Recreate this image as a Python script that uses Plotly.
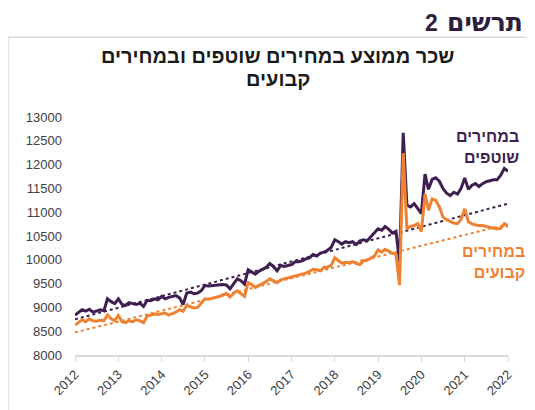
import plotly.graph_objects as go
import pandas as pd

# monthly average wage, Jan 2012 .. Jan 2022
months = pd.date_range("2012-01-01", "2022-01-01", freq="MS")

current_prices = [
    8840, 8900, 8950, 8920, 8960, 8900, 8930, 8950, 8930, 9180, 9120, 9080,
    9180, 9060, 9040, 9100, 9080, 9060, 9090, 9020, 9150, 9140, 9180, 9160,
    9230, 9180, 9210, 9230, 9250, 9200, 9060, 9300, 9320, 9290, 9300, 9350,
    9460, 9450, 9460, 9470, 9480, 9480, 9470, 9390, 9500, 9600, 9560, 9490,
    9790, 9740, 9700, 9760, 9800, 9840, 9920, 9860, 9770, 9880, 9860, 9880,
    9900, 9960, 9960, 9980, 10020, 10040, 10110, 10080, 10140, 10160, 10200, 10260,
    10420, 10380, 10330, 10380, 10360, 10380, 10320, 10400, 10420, 10400, 10490, 10560,
    10650, 10620, 10700, 10640, 10560, 10600, 9950, 12670, 11150, 11110, 11180, 11080,
    10970, 11800, 11480, 11690, 11725, 11650, 11500, 11400, 11350, 11420, 11380, 11500,
    11720, 11480, 11560, 11600, 11540, 11600, 11640, 11660, 11680, 11680, 11780, 11920,
    11860,
]

fixed_prices = [
    8630, 8680, 8740, 8700, 8760, 8720, 8710, 8730, 8720, 8840, 8760, 8720,
    8830, 8700, 8680, 8720, 8700, 8740, 8720, 8680, 8820, 8840, 8860, 8850,
    8860, 8880, 8840, 8870, 8900, 8950, 8920, 9040, 9010, 8990, 9000, 9080,
    9180, 9170, 9190, 9200, 9230, 9260, 9290, 9220, 9300, 9350, 9290, 9230,
    9520, 9480, 9420, 9460, 9500, 9540, 9600, 9560, 9520, 9580, 9600, 9620,
    9640, 9670, 9680, 9700, 9720, 9760, 9800, 9790, 9770, 9840, 9850, 9880,
    10040, 9980, 9930, 9950, 9940, 9960, 9920, 9900, 9980, 9990, 10040, 10080,
    10210, 10160, 10220, 10180, 10140, 10120, 9470, 12240, 10650, 10700, 10720, 10760,
    10590, 11380, 11040, 11280, 11250, 11110, 10900, 10840, 10800, 10770, 10760, 10850,
    11070, 10800, 10760, 10730, 10720, 10720, 10700, 10680, 10660, 10650, 10660, 10760,
    10690,
]

# linear trend end points (start / end of period)
trend_x = ["2012-01-01", "2022-01-01"]
trend_current = [8750, 11180]
trend_fixed = [8475, 10750]

PURPLE = "#3e1f4f"
ORANGE = "#ef8232"
FONT = "Liberation Sans, Arial, DejaVu Sans, sans-serif"

fig = go.Figure()

fig.add_trace(go.Scatter(x=trend_x, y=trend_current, mode="lines",
                         line=dict(color=PURPLE, width=2, dash="dot"), showlegend=False))
fig.add_trace(go.Scatter(x=trend_x, y=trend_fixed, mode="lines",
                         line=dict(color=ORANGE, width=2, dash="dot"), showlegend=False))
fig.add_trace(go.Scatter(x=months, y=current_prices, mode="lines",
                         line=dict(color=PURPLE, width=3), showlegend=False))
fig.add_trace(go.Scatter(x=months, y=fixed_prices, mode="lines",
                         line=dict(color=ORANGE, width=3), showlegend=False))

# chart frame
fig.add_shape(type="rect", xref="paper", yref="paper",
              x0=-0.1547, x1=1.08, y0=-0.3, y1=1.3347,
              line=dict(color="#d9d9d9", width=1.5), layer="below")

annots = [
    # figure heading, runs off the right edge as in the source page
    dict(text="<b>2</b>", x=0.843, y=1.395, xanchor="right",
         font=dict(size=23, color="#2f1d3d")),
    dict(text="<b>תרשים</b>", x=0.8545, y=1.395, xanchor="left",
         font=dict(size=25, color="#2f1d3d", family="DejaVu Sans, sans-serif")),
    dict(text="<b>שכר ממוצע במחירים שוטפים ובמחירים</b>", x=0.468, y=1.255,
         xanchor="center", font=dict(size=20, color="#1a1a1a")),
    dict(text="<b>קבועים</b>", x=0.468, y=1.161, xanchor="center",
         font=dict(size=20, color="#1a1a1a")),
    dict(text="<b>במחירים<br>שוטפים</b>", x=1.03, y=0.876, xanchor="right",
         align="right", font=dict(size=16, color=PURPLE)),
    dict(text="<b>במחירים<br>קבועים</b>", x=1.045, y=0.39, xanchor="right",
         align="right", font=dict(size=16, color=ORANGE)),
]
for a in annots:
    fig.add_annotation(xref="paper", yref="paper", showarrow=False,
                       yanchor="middle", **a)

# page body has an 8px margin, so the figure is 8px smaller than the window
fig.update_layout(
    width=527,
    height=402,
    margin=dict(l=67, r=27, t=109, b=49),
    paper_bgcolor="white",
    plot_bgcolor="white",
    font=dict(family=FONT, size=12, color="#404040"),
    xaxis=dict(
        type="date",
        range=["2012-01-01", "2022-01-01"],
        dtick="M12",
        tick0="2012-01-01",
        tickformat="%Y",
        tickangle=-45,
        showgrid=False,
        showline=True,
        linecolor="#d9d9d9",
        linewidth=1.5,
        ticks="outside",
        ticklen=5,
        tickcolor="#d9d9d9",
        tickfont=dict(size=13, color="#404040"),
        zeroline=False,
    ),
    yaxis=dict(
        range=[8000, 13000],
        dtick=500,
        tickformat="d",
        showgrid=False,
        showline=False,
        zeroline=False,
        ticks="",
        ticklabelstandoff=12,
        tickfont=dict(size=13, color="#404040"),
    ),
)

fig.write_html("out.html")
